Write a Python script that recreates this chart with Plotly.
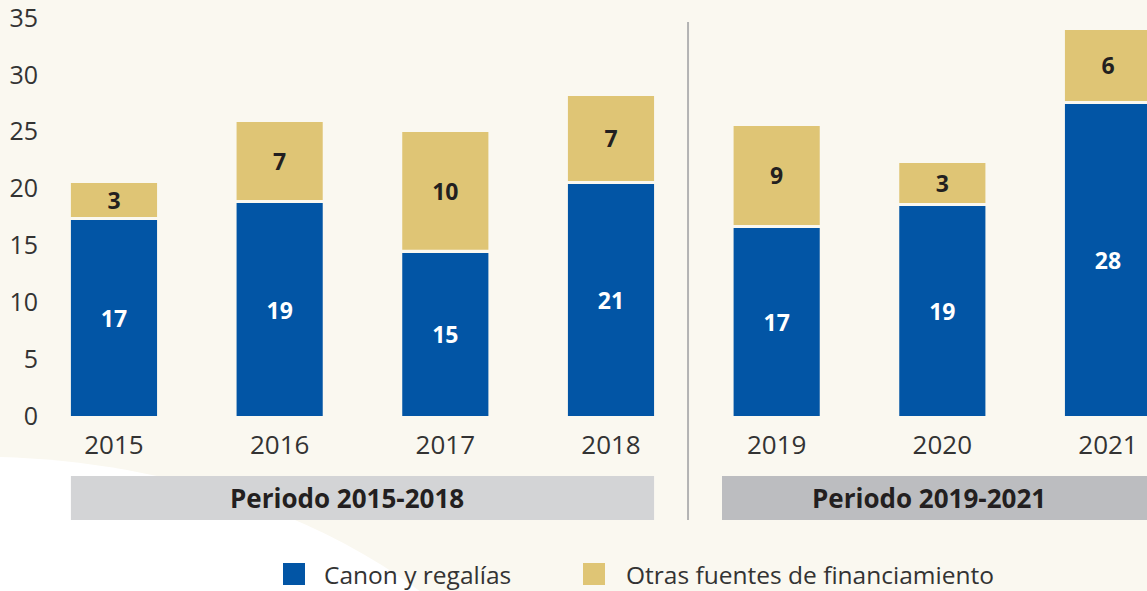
import plotly.graph_objects as go

years = ["2015", "2016", "2017", "2018", "2019", "2020", "2021"]
canon = [17.24, 18.73, 14.34, 20.40, 16.53, 18.47, 27.44]
otras = [3.25, 7.13, 10.64, 7.74, 8.98, 3.78, 6.51]
canon_labels = ["17", "19", "15", "21", "17", "19", "28"]
otras_labels = ["3", "7", "10", "7", "9", "3", "6"]
periods = ["Periodo 2015-2018", "Periodo 2019-2021"]
series_names = ["Canon y regalías", "Otras fuentes de financiamiento"]
y_ticks = [0, 5, 10, 15, 20, 25, 30, 35]

W, H = 1147, 591
ML, MR, MT, MB = 48, 0, 18, 175
PW, PH = W - ML - MR, H - MT - MB
BLUE = "#0255a5"
GOLD = "#dfc575"
BG = "#faf8f0"
FONT = "Open Sans"
DARK = "#231f20"

def px(x):
    return (x - ML) / PW

def py(y):
    return (H - MB - y) / PH

xs = list(range(len(years)))
GAP = 0.27
BW = 0.52

fig = go.Figure()
fig.add_trace(go.Bar(
    x=xs, y=canon, name=series_names[0], width=BW,
    marker=dict(color=BLUE, line=dict(width=0)),
    text=["<b>%s</b>" % t for t in canon_labels], textposition="inside",
    insidetextanchor="middle", constraintext="none", textangle=0,
    textfont=dict(family=FONT, size=23, color="white"),
    showlegend=False, hoverinfo="skip",
))
fig.add_trace(go.Bar(
    x=xs, y=[o - GAP for o in otras], base=[c + GAP for c in canon],
    name=series_names[1], width=BW,
    marker=dict(color=GOLD, line=dict(width=0)),
    text=["<b>%s</b>" % t for t in otras_labels], textposition="inside",
    insidetextanchor="middle", constraintext="none", textangle=0,
    textfont=dict(family=FONT, size=23, color=DARK),
    showlegend=False, hoverinfo="skip",
))

shapes = []
shapes.append(dict(
    type="path", xref="paper", yref="paper", layer="below",
    path="M %f %f C %f %f, %f %f, %f %f L %f %f Z" % (
        px(0), py(457), px(140), py(461), px(300), py(500), px(425), py(595),
        px(0), py(595)),
    fillcolor="white", line=dict(width=0),
))
shapes.append(dict(type="rect", xref="x", yref="paper", layer="below",
                   x0=-BW / 2, x1=3 + BW / 2, y0=py(476), y1=py(520),
                   fillcolor="#d3d4d6", line=dict(width=0)))
shapes.append(dict(type="rect", xref="x", yref="paper", layer="below",
                   x0=3.67, x1=6.4, y0=py(476), y1=py(520),
                   fillcolor="#bcbdc0", line=dict(width=0)))
shapes.append(dict(type="line", xref="x", yref="paper",
                   x0=3.465, x1=3.465, y0=py(22), y1=py(520),
                   line=dict(color="#b3b3b3", width=2)))
shapes.append(dict(type="rect", xref="paper", yref="paper",
                   x0=px(283), x1=px(305), y0=py(563), y1=py(585),
                   fillcolor=BLUE, line=dict(width=0)))
shapes.append(dict(type="rect", xref="paper", yref="paper",
                   x0=px(583), x1=px(605), y0=py(563), y1=py(585),
                   fillcolor=GOLD, line=dict(width=0)))

annotations = [
    dict(x=1.406, y=py(498), xref="x", yref="paper", text="<b>%s</b>" % periods[0],
         showarrow=False, xanchor="center", yanchor="middle",
         font=dict(family=FONT, size=26, color=DARK)),
    dict(x=4.918, y=py(498), xref="x", yref="paper", text="<b>%s</b>" % periods[1],
         showarrow=False, xanchor="center", yanchor="middle",
         font=dict(family=FONT, size=26, color=DARK)),
    dict(x=px(322), y=py(574), xref="paper", yref="paper", text=series_names[0],
         showarrow=False, xanchor="left", yanchor="middle",
         font=dict(family=FONT, size=24.5, color="#333333")),
    dict(x=px(624), y=py(574), xref="paper", yref="paper", text=series_names[1],
         showarrow=False, xanchor="left", yanchor="middle",
         font=dict(family=FONT, size=24.5, color="#333333")),
]

fig.update_layout(
    width=W, height=H,
    margin=dict(l=ML, r=MR, t=MT, b=MB, autoexpand=False),
    paper_bgcolor=BG, plot_bgcolor="rgba(0,0,0,0)",
    barmode="overlay", showlegend=False,
    shapes=shapes, annotations=annotations,
    font=dict(family=FONT, color="#333333"),
)
fig.update_xaxes(
    range=[(ML - 114) / 165.7, 6 + (W - 1108) / 165.7],
    tickvals=xs, ticktext=years, showgrid=False, zeroline=False, showline=False,
    ticks="outside", ticklen=6, tickcolor="rgba(0,0,0,0)", automargin=False,
    tickfont=dict(family=FONT, size=26, color="#333333"),
)
fig.update_yaxes(
    range=[0, 35], tickvals=y_ticks, showgrid=False, zeroline=False, showline=False,
    ticks="outside", ticklen=4, tickcolor="rgba(0,0,0,0)", automargin=False,
    ticklabeloverflow="allow",
    tickfont=dict(family=FONT, size=25, color="#333333"),
)

fig.write_html("out.html",
               config={"displayModeBar": False},
               post_script="document.body.style.margin='0';document.body.style.overflow='hidden';")
